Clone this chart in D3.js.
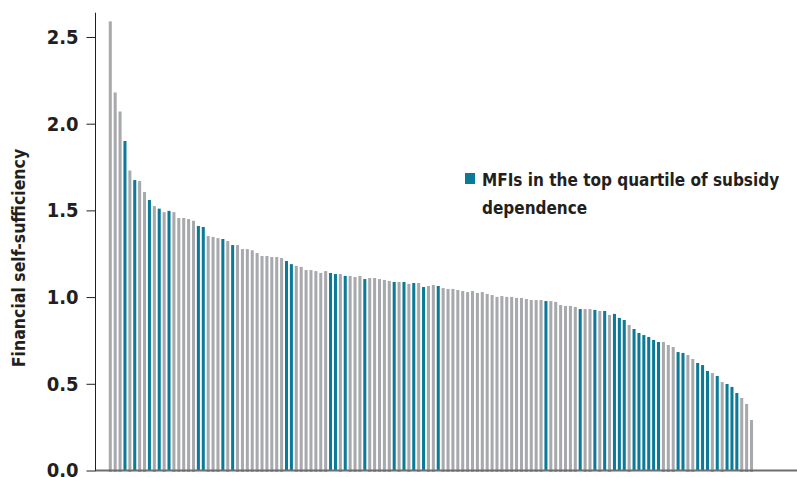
<!DOCTYPE html>
<html>
<head>
<meta charset="utf-8">
<script src="https://cdn.jsdelivr.net/npm/d3@7"></script>
<style>
  html, body { margin: 0; padding: 0; background: #ffffff; }
  svg { display: block; }
  text { font-family: "Liberation Sans Narrow", "DejaVu Sans Condensed", "Arial Narrow", sans-serif; fill: #231f20; font-weight: bold; }
</style>
</head>
<body>
<svg id="chart" width="797" height="477"></svg>
<script>
// ---- data ----
const values = [
  2.59, 2.18, 2.07, 1.90, 1.73, 1.675, 1.67, 1.606, 1.56, 1.525,
  1.51, 1.49, 1.497, 1.49, 1.456, 1.456, 1.45, 1.44, 1.41, 1.404,
  1.352, 1.347, 1.34, 1.335, 1.323, 1.30, 1.30, 1.277, 1.277, 1.27,
  1.254, 1.237, 1.237, 1.231, 1.231, 1.225, 1.208, 1.19, 1.18, 1.174,
  1.156, 1.156, 1.15, 1.139, 1.15, 1.139, 1.133, 1.133, 1.122, 1.122,
  1.116, 1.122, 1.104, 1.110, 1.110, 1.104, 1.099, 1.093, 1.087, 1.087,
  1.087, 1.076, 1.081, 1.081, 1.058, 1.064, 1.070, 1.064, 1.052, 1.047,
  1.047, 1.041, 1.035, 1.029, 1.035, 1.024, 1.029, 1.018, 1.012, 1.001,
  1.006, 1.001, 1.001, 0.995, 0.995, 0.989, 0.983, 0.983, 0.983, 0.977,
  0.977, 0.972, 0.954, 0.949, 0.949, 0.943, 0.931, 0.931, 0.931, 0.926,
  0.920, 0.920, 0.897, 0.903, 0.880, 0.868, 0.839, 0.816, 0.793, 0.781,
  0.770, 0.753, 0.741, 0.741, 0.724, 0.712, 0.683, 0.678, 0.666, 0.643,
  0.620, 0.608, 0.574, 0.562, 0.545, 0.510, 0.499, 0.482, 0.447, 0.418,
  0.384, 0.291
];
// 1-based positions of MFIs in the top quartile of subsidy dependence
const topQuartile = [4, 6, 9, 11, 13, 19, 20, 24, 26, 37, 38, 46, 47, 49, 53, 59, 61, 63,
  65, 68, 90, 97, 100, 102, 104, 105, 106, 108, 109, 110, 111, 112, 113,
  117, 118, 121, 122, 123, 125, 127, 128, 129];
const categories = values.map((v, i) => i + 1);
const yTicks = [0, 0.5, 1.0, 1.5, 2.0, 2.5];
const yLabel = "Financial self-sufficiency";
const legendLines = ["MFIs in the top quartile of subsidy", "dependence"];

// ---- layout ----
const W = 797, H = 477;
const svg = d3.select("#chart");
const gray = "#a8a9ad", teal = "#0b7a98";
const tq = new Set(topQuartile);

const x = d3.scaleBand().domain(categories).range([106.9, 754.9]).paddingInner(0.38).paddingOuter(0.38);
const y = d3.scaleLinear().domain([0, 2.64]).range([470.5, 12.7]);

// bars
svg.append("g").selectAll("rect").data(categories).join("rect")
  .attr("x", d => x(d))
  .attr("width", x.bandwidth())
  .attr("y", d => y(values[d - 1]))
  .attr("height", d => y(0) - y(values[d - 1]) + (tq.has(d) ? 0 : 1.5))
  .attr("fill", d => tq.has(d) ? teal : gray);

// baseline
svg.append("line").attr("x1", 95).attr("x2", W).attr("y1", y(0)).attr("y2", y(0))
  .attr("stroke", "#6d6e71").attr("stroke-width", 2);

// y axis
const yAxis = d3.axisLeft(y).tickValues(yTicks).tickFormat(d3.format(".1f")).tickSize(9).tickPadding(8);
const ga = svg.append("g").attr("transform", "translate(95.5,0)").call(yAxis);
ga.select(".domain").attr("d", `M0,${y(2.64)}V${y(0)}`).attr("stroke", "#231f20");
ga.selectAll(".tick line").attr("stroke", "#231f20");
ga.selectAll(".tick text").style("font-size", "20px").attr("fill", "#231f20")
  .style("font-weight", "bold")
  .style("font-family", "'Liberation Sans Narrow','DejaVu Sans Condensed',sans-serif");

// y label
svg.append("text")
  .attr("transform", `translate(25,258) rotate(-90)`)
  .attr("text-anchor", "middle")
  .style("font-size", "17.5px")
  .text(yLabel);

// legend
svg.append("rect").attr("x", 465).attr("y", 173).attr("width", 10).attr("height", 11).attr("fill", teal);
svg.append("text").attr("x", 482).attr("y", 186).style("font-size", "17px").text(legendLines[0]);
svg.append("text").attr("x", 482).attr("y", 214).style("font-size", "17px").text(legendLines[1]);
</script>
</body>
</html>
